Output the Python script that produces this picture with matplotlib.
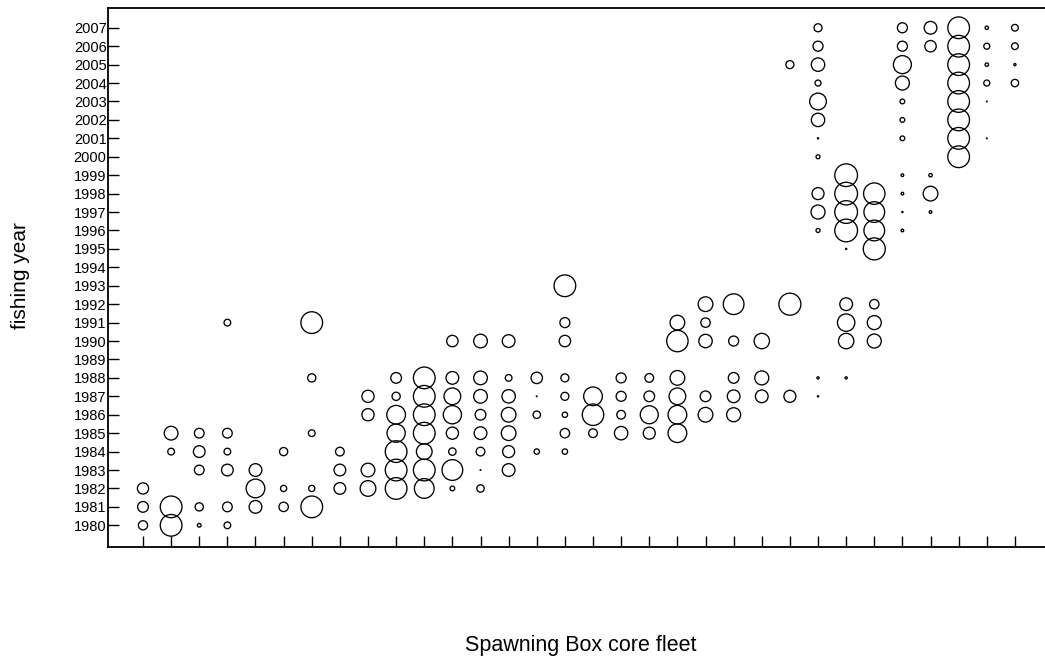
import matplotlib.pyplot as plt

plt.rcParams['font.family'] = ['Liberation Sans', 'DejaVu Sans']

# vessels of the Spawning Box core fleet (x positions) and fishing years
vessels = list(range(1, 33))
year_ticks = list(range(1980, 2008))

# years with landings for each vessel, and relative bubble size for each
years = [
    [1980, 1981, 1982],
    [1980, 1981, 1984, 1985],
    [1980, 1981, 1983, 1984, 1985],
    [1980, 1981, 1983, 1984, 1985, 1991],
    [1981, 1982, 1983],
    [1981, 1982, 1984],
    [1981, 1982, 1985, 1988, 1991],
    [1982, 1983, 1984],
    [1982, 1983, 1986, 1987],
    [1982, 1983, 1984, 1985, 1986, 1987, 1988],
    [1982, 1983, 1984, 1985, 1986, 1987, 1988],
    [1982, 1983, 1984, 1985, 1986, 1987, 1988, 1990],
    [1982, 1983, 1984, 1985, 1986, 1987, 1988, 1990],
    [1983, 1984, 1985, 1986, 1987, 1988, 1990],
    [1984, 1986, 1987, 1988],
    [1984, 1985, 1986, 1987, 1988, 1990, 1991, 1993],
    [1985, 1986, 1987],
    [1985, 1986, 1987, 1988],
    [1985, 1986, 1987, 1988],
    [1985, 1986, 1987, 1988, 1990, 1991],
    [1986, 1987, 1990, 1991, 1992],
    [1986, 1987, 1988, 1990, 1992],
    [1987, 1988, 1990],
    [1987, 1992, 2005],
    [1987, 1988, 1996, 1997, 1998, 2000, 2001, 2002, 2003, 2004, 2005, 2006, 2007],
    [1988, 1990, 1991, 1992, 1995, 1996, 1997, 1998, 1999],
    [1990, 1991, 1992, 1995, 1996, 1997, 1998],
    [1996, 1997, 1998, 1999, 2001, 2002, 2003, 2004, 2005, 2006, 2007],
    [1997, 1998, 1999, 2006, 2007],
    [2000, 2001, 2002, 2003, 2004, 2005, 2006, 2007],
    [2001, 2003, 2004, 2005, 2006, 2007],
    [2004, 2005, 2006, 2007],
]
sizes = [
    [10.5, 12, 12.5],
    [23, 23, 8, 15],
    [5, 9.5, 11, 13, 11],
    [8, 11, 13, 8, 11, 8],
    [14, 20, 14],
    [10.7, 7.5, 9.5],
    [23, 7.5, 8, 9.5, 23],
    [13, 13, 10],
    [17, 15, 13.5, 13.5],
    [23, 23, 23, 19.5, 20, 9.5, 12],
    [21, 23, 17, 23, 23, 23, 23],
    [6, 22, 8.7, 13.5, 19.5, 18, 14, 12.7],
    [8.7, 2, 10, 14, 12, 15, 15, 15],
    [14, 13.3, 16, 16, 14.7, 8, 14],
    [6.7, 8.7, 2, 12.7],
    [6.7, 10.7, 6.7, 9.3, 9.3, 12.7, 11.3, 23],
    [10, 22.7, 20],
    [14.7, 10, 11.3, 11.3],
    [13.3, 19.3, 12, 10],
    [20, 20, 18, 16, 22.7, 16],
    [16, 12, 14.7, 10.7, 16],
    [15.3, 14, 12, 11.3, 22],
    [14, 15.3, 16.7],
    [13.3, 23.3, 9.3],
    [2.5, 3.5, 5.3, 15.3, 13.3, 5.3, 2.5, 14.7, 18, 7.3, 14.7, 11.3, 9.3],
    [3.5, 16.7, 18.7, 14, 2.5, 24, 24, 24, 24],
    [15.3, 15.3, 10.7, 23.3, 22, 22, 22.7],
    [4, 2.5, 4, 4, 6, 6, 6, 15.3, 19.3, 11.3, 11.3],
    [4, 16, 4.7, 12.7, 14],
    [23, 23, 23, 23, 23, 23, 23, 23],
    [2, 2, 7.3, 4.7, 7.3, 4.7],
    [8.7, 3.5, 8, 8],
]

fig = plt.figure(figsize=(10.45, 6.6), dpi=100)
ax = fig.add_axes([108 / 1045, 1 - 546.5 / 660, 937 / 1045, 539 / 660])

for v, ys, ss in zip(vessels, years, sizes):
    s = [(max(d - 1.3, 0.8) * 0.72) ** 2 for d in ss]
    ax.scatter([v] * len(ys), ys, s=s, facecolors='none', edgecolors='black',
               linewidths=0.95, zorder=3)

ax.set_xlim(-0.244, 33.07)
ax.set_ylim(1978.85, 2008.1)
ax.set_xticks(vessels)
ax.set_xticklabels([])
ax.set_yticks(year_ticks)
ax.set_yticklabels([str(y) for y in year_ticks], fontsize=10.5)
ax.tick_params(direction='in', length=8, width=1, pad=1, color='black')
ax.spines['right'].set_visible(False)
for side in ['left', 'top', 'bottom']:
    ax.spines[side].set_linewidth(1.3)

fig.text(21 / 1045, 1 - 276 / 660, 'fishing year', rotation=90,
         ha='center', va='center', fontsize=15)
fig.text(581 / 1045, 1 - 645 / 660, 'Spawning Box core fleet',
         ha='center', va='center', fontsize=15.5)

plt.savefig('out.png', dpi=100)
